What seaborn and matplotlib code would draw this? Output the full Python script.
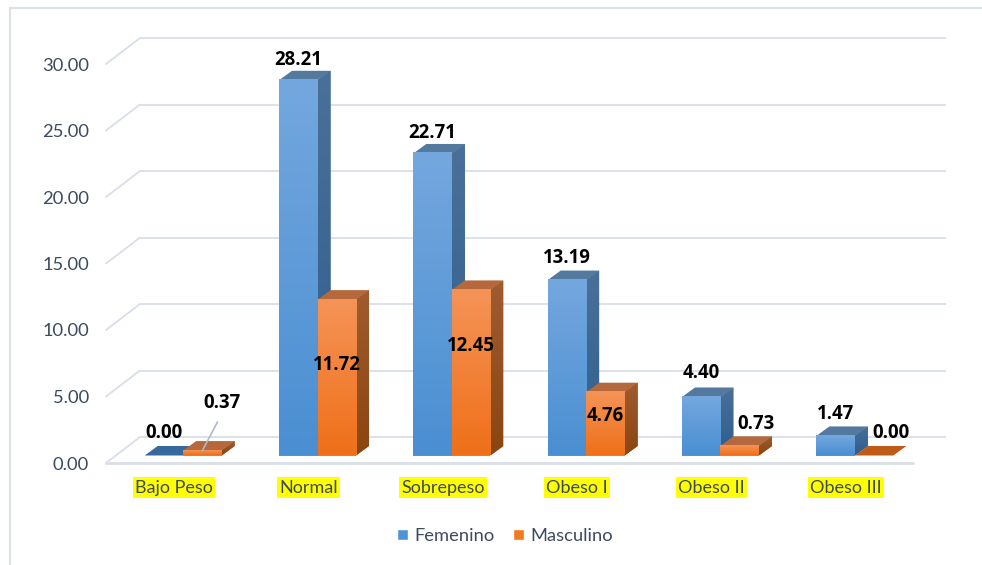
import numpy as np
import pandas as pd
import matplotlib
matplotlib.use("Agg")
import matplotlib.pyplot as plt
from matplotlib.lines import Line2D
from matplotlib.patches import Polygon
from matplotlib.colors import to_rgb
import seaborn as sns

categories = ["Bajo Peso", "Normal", "Sobrepeso", "Obeso I", "Obeso II", "Obeso III"]
femenino = [0.00, 28.21, 22.71, 13.19, 4.40, 1.47]
masculino = [0.37, 11.72, 12.45, 4.76, 0.73, 0.00]
series_names = ["Femenino", "Masculino"]
y_ticks = [0, 5, 10, 15, 20, 25, 30]

# label offsets in pixels from the top-centre of each bar
fem_offsets = [(0, 22), (0, 20), (0, 20), (0, 22), (0, 24), (0, 22)]
mas_offsets = [(20, 48), (0, -65), (0, -56), (0, -24), (16, 22), (17, 22)]

W, H = 982, 565
sns.set_theme(style="white")
plt.rcParams["font.family"] = ["Lato", "DejaVu Sans"]
TXT = "#3C4A60"
GRID = "#D9DEE8"

df = pd.DataFrame({
    "cat": categories * 2,
    "val": femenino + masculino,
    "sex": [series_names[0]] * 6 + [series_names[1]] * 6,
})

fig = plt.figure(figsize=(W / 100, H / 100), dpi=100, facecolor="white")
ax = fig.add_axes([107 / W, (H - 463) / H, 806 / W, 399 / H])
sns.barplot(data=df, x="cat", y="val", hue="sex", order=categories,
            hue_order=series_names, palette=["#4F94D6", "#F2791F"],
            width=0.573, gap=0, dodge=True, ax=ax, legend=True, saturation=1)

PX = 6 / 806      # data units per pixel, x
PY = 30 / 399     # data units per pixel, y
xlim = (-0.5, 5.5)
ylim = (0, 30)

# frame of the chart area
fig.add_artist(Line2D([10 / W, 10 / W], [0, 1 - 8 / H], color="#DCE2EC", lw=1.6))
fig.add_artist(Line2D([10 / W, 1], [1 - 8 / H, 1 - 8 / H], color="#DCE2EC", lw=1.6))

# gridlines: a back line and a stub on the left wall for each tick
BX, BY = 33 * PX, 26 * PY
for t in y_ticks:
    ax.plot([xlim[0] + BX, xlim[1] + BX], [t + BY, t + BY], color=GRID, lw=1.3,
            zorder=1, clip_on=False, solid_capstyle="butt")
    ax.plot([xlim[0] - PX, xlim[0] + BX], [t, t + BY], color=GRID, lw=1.3,
            zorder=1, clip_on=False)
ax.plot([xlim[0] - PX, xlim[1]], [0, 0], color=GRID, lw=2, zorder=1, clip_on=False)

shades = {
    0: dict(front=("#74A7DE", "#4A8FD2"), side=("#4A7099", "#2D5E8E"), top="#53799F", zero="#376A9C"),
    1: dict(front=("#F59357", "#EF7019"), side=("#A05C30", "#8A4510"), top="#B5683C", zero="#BF5B17"),
}
OX, OY = 9 * PX, 7.5 * PY    # bars stand part way back on the floor
DX, DY = 13 * PX, 9.5 * PY   # depth of each bar


def gradient(c1, c2):
    a, b = np.array(to_rgb(c1)), np.array(to_rgb(c2))
    return np.linspace(a, b, 64)[:, None, :]


z = 3.0
for idx in range(len(categories)):
    for s, cont in enumerate(ax.containers[:2]):
        p = cont.patches[idx]
        sh = shades[s]
        x0 = p.get_x() + OX
        w = p.get_width()
        h = p.get_height()
        y0 = OY
        p.set_x(x0)
        p.set_y(y0)
        p.set_linewidth(0)
        p.set_zorder(z)
        p.set_clip_on(False)
        # top
        top = Polygon([(x0, y0 + h), (x0 + w, y0 + h), (x0 + w + DX, y0 + h + DY), (x0 + DX, y0 + h + DY)],
                      closed=True, fc=sh["top"] if h > 0 else sh["zero"], ec="none", zorder=z, clip_on=False)
        ax.add_patch(top)
        if h > 0:
            side = Polygon([(x0 + w, y0), (x0 + w + DX, y0 + DY), (x0 + w + DX, y0 + h + DY), (x0 + w, y0 + h)],
                           closed=True, fc=sh["side"][1], ec="none", zorder=z, clip_on=False)
            ax.add_patch(side)
            im = ax.imshow(gradient(*sh["side"]), extent=(x0 + w, x0 + w + DX, y0, y0 + h + DY),
                           aspect="auto", origin="upper", zorder=z + 0.01, interpolation="bilinear")
            im.set_clip_path(side)
            im2 = ax.imshow(gradient(*sh["front"]), extent=(x0, x0 + w, y0, y0 + h),
                            aspect="auto", origin="upper", zorder=z + 0.02, interpolation="bilinear")
            im2.set_clip_on(False)
        z += 0.1

ax.set_xlim(*xlim)
ax.set_ylim(*ylim)

# value labels
LBL = dict(ha="center", va="center", fontsize=13.4, fontweight="bold", color="black",
           family=["Open Sans", "DejaVu Sans"],
           textcoords="offset pixels", zorder=20, annotation_clip=False)
for s, (vals, offs) in enumerate(zip([femenino, masculino], [fem_offsets, mas_offsets])):
    for i, (p, v, o) in enumerate(zip(ax.containers[s].patches, vals, offs)):
        xy = (p.get_x() + p.get_width() / 2, OY + v)
        if s == 1 and i == 0:
            ax.annotate(f"{v:.2f}", xy=xy, xytext=o,
                        arrowprops=dict(arrowstyle="-", color="#AEB9C9", lw=1.2, shrinkA=5, shrinkB=0,
                                        relpos=(0.5, 0)), **LBL)
        else:
            ax.annotate(f"{v:.2f}", xy=xy, xytext=o, **LBL)

# axes text
sns.despine(ax=ax, left=True, bottom=True, top=True, right=True)
ax.set_xlabel("")
ax.set_ylabel("")
ax.set_yticks(y_ticks)
ax.set_yticklabels([f"{t:.2f}" for t in y_ticks], fontsize=13.2, color=TXT)
ax.tick_params(axis="y", length=0, pad=13)
ax.tick_params(axis="x", length=0, pad=12, labelsize=13, labelcolor=TXT)
for lab in ax.get_xticklabels():
    lab.set_bbox(dict(facecolor="#FFFF00", edgecolor="none", pad=1.6))
ax.patch.set_alpha(0)

handles, labels = ax.get_legend_handles_labels()
ax.legend(handles[:2], labels[:2], loc="center", bbox_to_anchor=(505 / W, (H - 536) / H),
          bbox_transform=fig.transFigure, ncol=2, frameon=False, fontsize=13.2,
          labelcolor=TXT, handlelength=0.6, handleheight=0.6, handletextpad=0.4,
          columnspacing=0.95, borderpad=0)

fig.savefig("out.png", dpi=100, facecolor="white")
